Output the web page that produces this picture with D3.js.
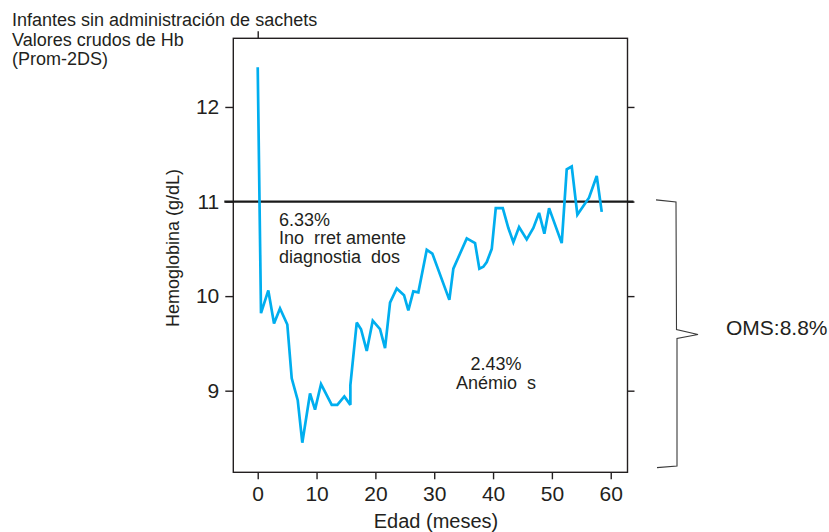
<!DOCTYPE html>
<html>
<head>
<meta charset="utf-8">
<script src="https://cdn.jsdelivr.net/npm/d3@7"></script>
<style>
  body { margin: 0; background: #fff; }
  svg { display: block; }
  text { font-family: "Liberation Sans", Arial, sans-serif; fill: #231f20; white-space: pre; }
</style>
</head>
<body>
<svg id="chart" width="829" height="532"></svg>
<script>
// Age in months and mean haemoglobin (g/dL)
const ages = [0, 0.56, 1.8, 2.77, 3.79, 5.03, 5.78, 6.8, 7.58, 8.89, 9.74, 10.76, 12.58, 13.53, 14.72,
  15.75, 15.75, 16.83, 17.56, 18.53, 19.55, 20.79, 21.64, 22.49, 23.63, 24.87, 25.6, 26.45, 27.3, 28.73,
  29.68, 32.57, 33.25, 35.53, 36.94, 37.67, 38.35, 38.93, 39.78, 40.46, 41.65, 42.6, 43.45, 44.42, 45.72,
  46.85, 47.82, 48.72, 49.52, 51.67, 52.52, 53.37, 54.33, 56.31, 57.62, 58.47];
const hb = [12.42, 9.82, 10.06, 9.71, 9.87, 9.70, 9.13, 8.90, 8.45, 8.97, 8.80, 9.07, 8.85, 8.85, 8.94,
  8.85, 9.06, 9.72, 9.65, 9.42, 9.74, 9.65, 9.45, 9.93, 10.08, 10.01, 9.85, 10.05, 10.04, 10.49,
  10.45, 9.96, 10.29, 10.61, 10.56, 10.29, 10.31, 10.36, 10.50, 10.93, 10.93, 10.72, 10.57, 10.73, 10.60,
  10.72, 10.88, 10.66, 10.93, 10.56, 11.34, 11.37, 10.86, 11.04, 11.27, 10.89];

const xTicks = [0, 10, 20, 30, 40, 50, 60];
const yTicks = [9, 10, 11, 12];
const cutoff = 11;          // anaemia threshold
const braceRange = [11, 8.2];

const titleLines = ["Infantes sin administración de sachets", "Valores crudos de Hb", "(Prom-2DS)"];
const xTitle = "Edad (meses)";
const yTitle = "Hemoglobina (g/dL)";
const noteUpper = ["6.33%", "Ino  rret amente", "diagnostia  dos"];
const noteLower = ["2.43%", "Anémio  s"];
const braceLabel = "OMS:8.8%";

const svg = d3.select("#chart");
const ink = "#231f20";
const plot = { left: 233.3, right: 627.5, top: 38.3, bottom: 472.3 };

const x = d3.scaleLinear().domain([-4.15, 62.85]).range([plot.left, plot.right]);
const y = d3.scaleLinear().domain([8.137, 12.726]).range([plot.bottom, plot.top]);

// Title block
svg.append("g").selectAll("text").data(titleLines).join("text")
  .attr("x", 12).attr("y", (d, i) => 26 + i * 19.5)
  .attr("font-size", 18).text(d => d);

// Axes
function styleAxis(g) {
  g.select(".domain").remove();
  g.selectAll(".tick line").attr("stroke", ink).attr("stroke-width", 1.4);
  g.selectAll(".tick text").attr("fill", ink).attr("font-family", '"Liberation Sans", Arial, sans-serif');
}

svg.append("g").attr("transform", `translate(0,${plot.bottom})`)
  .call(d3.axisBottom(x).tickValues(xTicks).tickFormat(d3.format("d")).tickSize(7).tickPadding(7))
  .attr("font-size", 21).call(styleAxis);

svg.append("g").attr("transform", `translate(${plot.left},0)`)
  .call(d3.axisLeft(y).tickValues(yTicks).tickFormat(d3.format("d")).tickSize(8).tickPadding(6))
  .attr("font-size", 21).call(styleAxis);

svg.append("g").attr("transform", `translate(${plot.right},0)`)
  .call(d3.axisRight(y).tickValues(yTicks).tickSize(7).tickFormat(""))
  .call(styleAxis);

svg.append("g").attr("transform", `translate(0,${plot.top})`)
  .call(d3.axisTop(x).tickValues([0]).tickSize(7).tickFormat(""))
  .call(styleAxis);

// Frame
svg.append("rect")
  .attr("x", plot.left).attr("y", plot.top)
  .attr("width", plot.right - plot.left).attr("height", plot.bottom - plot.top)
  .attr("fill", "none").attr("stroke", ink).attr("stroke-width", 1.4);

// Axis titles
svg.append("text").attr("x", 436).attr("y", 527.5)
  .attr("text-anchor", "middle").attr("font-size", 20).text(xTitle);
svg.append("text").attr("transform", "translate(179,248) rotate(-90)")
  .attr("text-anchor", "middle").attr("font-size", 18).text(yTitle);

// Threshold line
svg.append("line")
  .attr("x1", plot.left - 9).attr("x2", plot.right + 6)
  .attr("y1", y(cutoff)).attr("y2", y(cutoff))
  .attr("stroke", "#1a1a1a").attr("stroke-width", 2.3);

// Haemoglobin series
const pts = ages.map((a, i) => [a, hb[i]]);
svg.append("path").datum(pts)
  .attr("fill", "none").attr("stroke", "#00aeef").attr("stroke-width", 2.7)
  .attr("stroke-linejoin", "miter").attr("stroke-miterlimit", 3)
  .attr("d", d3.line().x(d => x(d[0])).y(d => y(d[1])));

// Annotations
svg.append("g").selectAll("text").data(noteUpper).join("text")
  .attr("x", 279).attr("y", (d, i) => 226 + i * 18.4)
  .attr("font-size", 18).text(d => d);
svg.append("g").selectAll("text").data(noteLower).join("text")
  .attr("x", 496).attr("y", (d, i) => 370 + i * 19.3)
  .attr("text-anchor", "middle").attr("font-size", 18).text(d => d);

// Brace spanning the WHO range
const yTop = y(braceRange[0]), yBot = y(braceRange[1]), yMid = (yTop + yBot) / 2;
const xr = plot.right;
const brace = [
  [xr + 28.5, yTop - 1.7], [xr + 48.5, yTop + 0.5], [xr + 49, yMid - 4.5],
  [xr + 70.5, yMid + 0.5], [xr + 49.5, yMid + 4.5], [xr + 49.5, yBot - 0.3], [xr + 29.5, yBot + 1.3]
];
svg.append("path").datum(brace)
  .attr("fill", "none").attr("stroke", "#3a3a3a").attr("stroke-width", 1.1)
  .attr("d", d3.line());
svg.append("text").attr("x", 726).attr("y", 335)
  .attr("font-size", 21).text(braceLabel);
</script>
</body>
</html>
